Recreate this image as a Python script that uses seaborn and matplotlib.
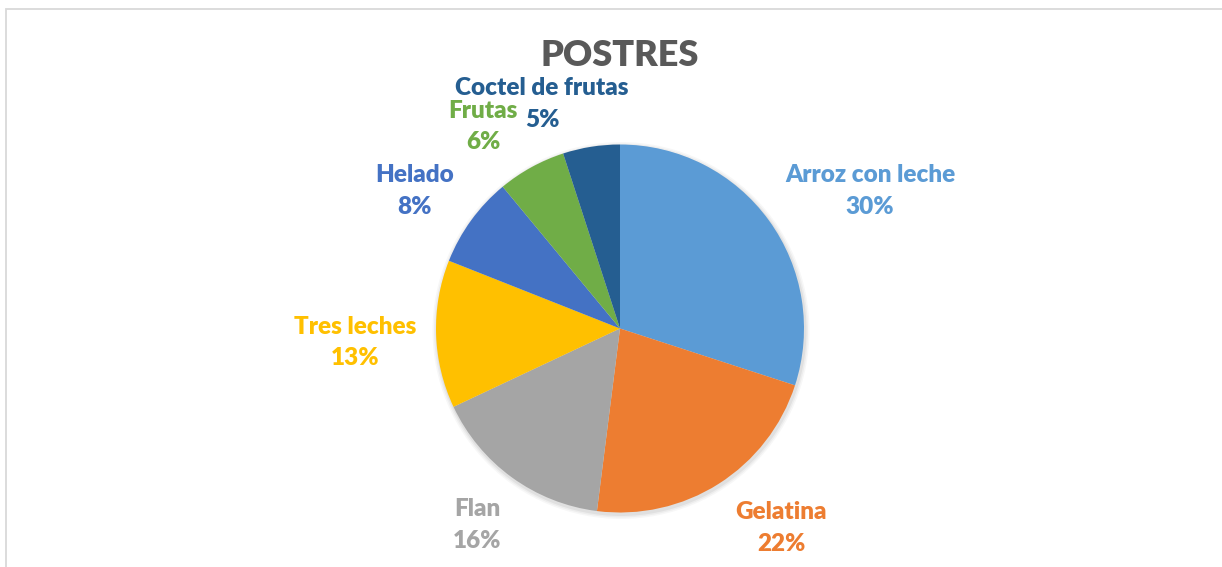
import matplotlib
matplotlib.use("Agg")
import matplotlib.pyplot as plt
import seaborn as sns
from matplotlib.patches import Rectangle, Circle

categories = ["Arroz con leche", "Gelatina", "Flan", "Tres leches", "Helado", "Frutas", "Coctel de frutas"]
values = [30, 22, 16, 13, 8, 6, 5]
pct_labels = ["30%", "22%", "16%", "13%", "8%", "6%", "5%"]
colors = ["#5B9BD5", "#ED7D31", "#A5A5A5", "#FFC000", "#4472C4", "#70AD47", "#255E91"]
title = "POSTRES"

sns.set_theme(style="white")
plt.rcParams['font.family'] = ['Lato', 'DejaVu Sans']

W, H = 1222, 567
fig = plt.figure(figsize=(W / 100, H / 100), dpi=100)
ax = fig.add_axes([0, 0, 1, 1])

cx, cy, r = 620, H - 328.5, 184
# soft shadow
for i, a in enumerate([0.05, 0.04, 0.03]):
    ax.add_patch(Circle((cx + 1, cy - 2), r + 1.5 + i * 1.5, color="#000000",
                        alpha=a, lw=0, zorder=1))

ax.pie(values, colors=colors, startangle=90, counterclock=False,
       center=(cx, cy), radius=r, frame=True,
       wedgeprops=dict(linewidth=0, zorder=2))
ax.set_xlim(0, W)
ax.set_ylim(0, H)
ax.set_aspect('equal')
ax.axis('off')

# frame
ax.add_patch(Rectangle((6, -50), W + 100, H - 9 + 50, fill=False,
                       edgecolor="#D9D9D9", lw=1.3, zorder=0))

# label positions (pixel coordinates: x center, name line y, percent line y)
label_pos = [(870, 175, 207), (781, 512, 544), (477, 509, 541), (355, 327, 358),
             (415, 175, 207), (483, 111, 142), (542, 88, 120)]
for cat, pct, col, (lx, ly1, ly2) in zip(categories, pct_labels, colors, label_pos):
    ax.text(lx, H - ly1, cat, ha="center", va="center", color=col,
            fontsize=17.5, fontweight="heavy", zorder=5)
    ax.text(lx, H - ly2, pct, ha="center", va="center", color=col,
            fontsize=17.5, fontweight="heavy", zorder=5)

ax.text(620, H - 56, title, ha="center", va="center", color="#595959",
        fontsize=26, fontweight="heavy", zorder=5)

fig.savefig("out.png", dpi=100)
